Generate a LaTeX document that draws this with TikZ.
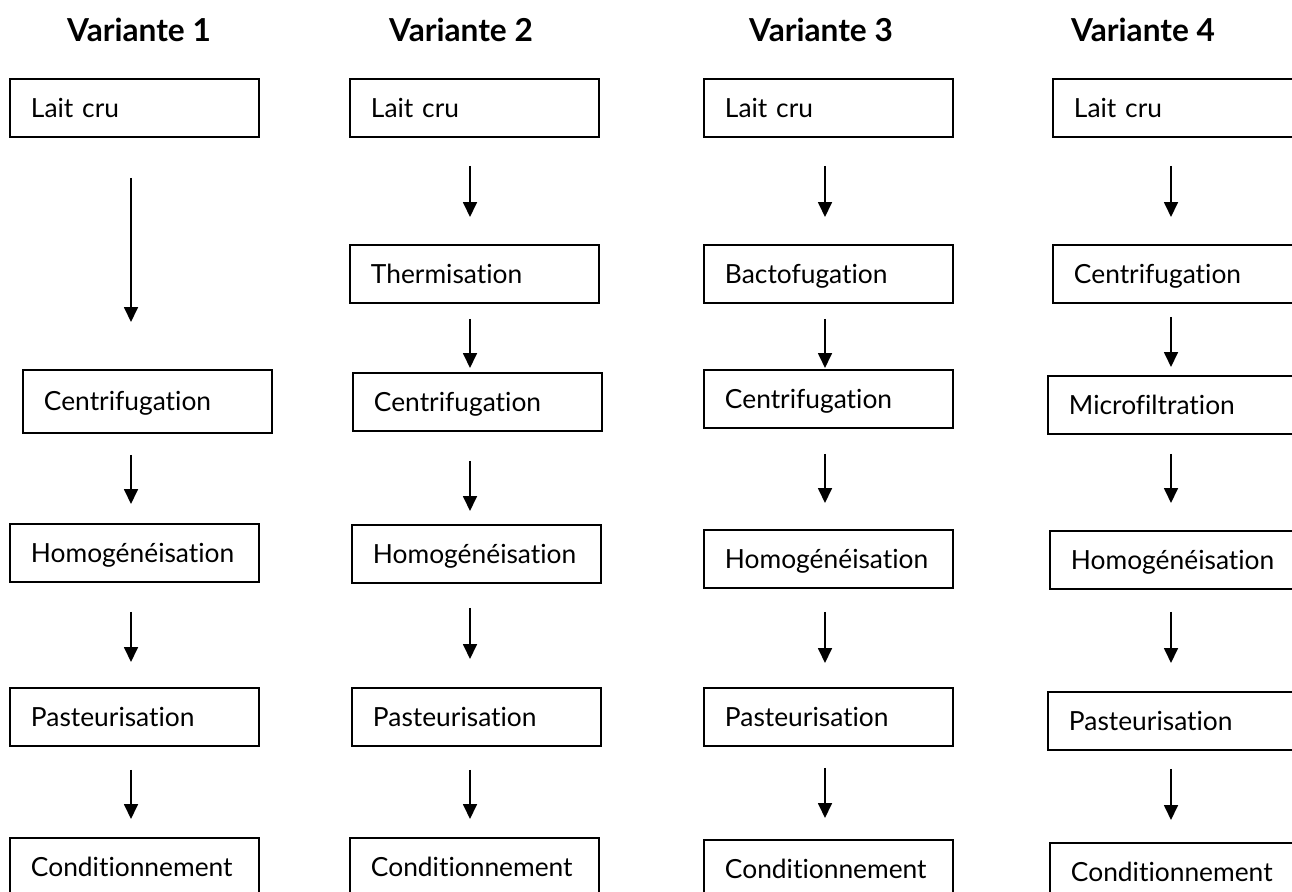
\documentclass[tikz,border=0pt]{standalone}
\usepackage{fontspec}
\setmainfont[Ligatures=NoCommon]{Lato}
\usetikzlibrary{arrows.meta}
\tikzset{
	etape/.style={draw, line width=1.1pt, anchor=north west, minimum width=4.98cm,
		minimum height=1.16cm, text width=4.14cm, inner xsep=0.42cm, inner ysep=0pt,
		align=left, text height=10.8pt, text depth=0pt, font=\fontsize{15}{18}\selectfont},
	titre/.style={font=\fontsize{18}{21}\selectfont\bfseries},
	fleche/.style={line width=1pt, -{Triangle[width=0.28cm,length=0.3cm]}}
}
\begin{document}
\begin{tikzpicture}[x=0.02cm, y=-0.02cm]
	\useasboundingbox (0,0) rectangle (1292,892);
	
	% Variante 1
	\node[titre] (t1) at (139,30) {Variante 1};
	\coordinate (axe1) at (131,0);
	\node[etape] (lc1) at (9,78) {Lait cru};
	\node[etape, minimum height=1.26cm] (cen1) at (22,369) {Centrifugation};
	\node[etape] (hom1) at (9,523) {Homogénéisation};
	\node[etape] (pas1) at (9,687) {Pasteurisation};
	\node[etape] (con1) at (9,837) {Conditionnement};
	\draw[fleche, shorten <=0.8cm, shorten >=0.94cm] (lc1.south -| axe1) -- (cen1.north -| axe1);
	\draw[fleche, shorten <=0.42cm, shorten >=0.38cm] (cen1.south -| axe1) -- (hom1.north -| axe1);
	\draw[fleche, shorten <=0.58cm, shorten >=0.5cm] (hom1.south -| axe1) -- (pas1.north -| axe1);
	\draw[fleche, shorten <=0.46cm, shorten >=0.36cm] (pas1.south -| axe1) -- (con1.north -| axe1);
	
	% Variante 2
	\node[titre] (t2) at (461,30) {Variante 2};
	\coordinate (axe2) at (470,0);
	\node[etape] (lc2) at (349,78) {Lait cru};
	\node[etape] (the2) at (349,244) {Thermisation};
	\node[etape] (cen2) at (352,372) {Centrifugation};
	\node[etape] (hom2) at (351,524) {Homogénéisation};
	\node[etape] (pas2) at (351,687) {Pasteurisation};
	\node[etape] (con2) at (349,837) {Conditionnement};
	\draw[fleche, shorten <=0.56cm, shorten >=0.54cm] (lc2.south -| axe2) -- (the2.north -| axe2);
	\draw[fleche, shorten <=0.3cm, shorten >=0.08cm] (the2.south -| axe2) -- (cen2.north -| axe2);
	\draw[fleche, shorten <=0.58cm, shorten >=0.26cm] (cen2.south -| axe2) -- (hom2.north -| axe2);
	\draw[fleche, shorten <=0.48cm, shorten >=0.56cm] (hom2.south -| axe2) -- (pas2.north -| axe2);
	\draw[fleche, shorten <=0.46cm, shorten >=0.36cm] (pas2.south -| axe2) -- (con2.north -| axe2);
	
	% Variante 3
	\node[titre] (t3) at (821,30) {Variante 3};
	\coordinate (axe3) at (825,0);
	\node[etape] (lc3) at (703,78) {Lait cru};
	\node[etape] (bac3) at (703,244) {Bactofugation};
	\node[etape] (cen3) at (703,369) {Centrifugation};
	\node[etape] (hom3) at (703,529) {Homogénéisation};
	\node[etape] (pas3) at (703,687) {Pasteurisation};
	\node[etape] (con3) at (703,839) {Conditionnement};
	\draw[fleche, shorten <=0.56cm, shorten >=0.54cm] (lc3.south -| axe3) -- (bac3.north -| axe3);
	\draw[fleche, shorten <=0.3cm, shorten >=0.02cm] (bac3.south -| axe3) -- (cen3.north -| axe3);
	\draw[fleche, shorten <=0.5cm, shorten >=0.52cm] (cen3.south -| axe3) -- (hom3.north -| axe3);
	\draw[fleche, shorten <=0.46cm, shorten >=0.48cm] (hom3.south -| axe3) -- (pas3.north -| axe3);
	\draw[fleche, shorten <=0.42cm, shorten >=0.42cm] (pas3.south -| axe3) -- (con3.north -| axe3);
	
	% Variante 4
	\node[titre] (t4) at (1143,30) {Variante 4};
	\coordinate (axe4) at (1171,0);
	\node[etape] (lc4) at (1052,78) {Lait cru};
	\node[etape] (cen4) at (1052,244) {Centrifugation};
	\node[etape] (mic4) at (1047,375) {Microfiltration};
	\node[etape] (hom4) at (1049,530) {Homogénéisation};
	\node[etape] (pas4) at (1047,691) {Pasteurisation};
	\node[etape] (con4) at (1049,842) {Conditionnement};
	\draw[fleche, shorten <=0.56cm, shorten >=0.54cm] (lc4.south -| axe4) -- (cen4.north -| axe4);
	\draw[fleche, shorten <=0.26cm, shorten >=0.16cm] (cen4.south -| axe4) -- (mic4.north -| axe4);
	\draw[fleche, shorten <=0.38cm, shorten >=0.54cm] (mic4.south -| axe4) -- (hom4.north -| axe4);
	\draw[fleche, shorten <=0.44cm, shorten >=0.56cm] (hom4.south -| axe4) -- (pas4.north -| axe4);
	\draw[fleche, shorten <=0.36cm, shorten >=0.44cm] (pas4.south -| axe4) -- (con4.north -| axe4);
\end{tikzpicture}
\end{document}
